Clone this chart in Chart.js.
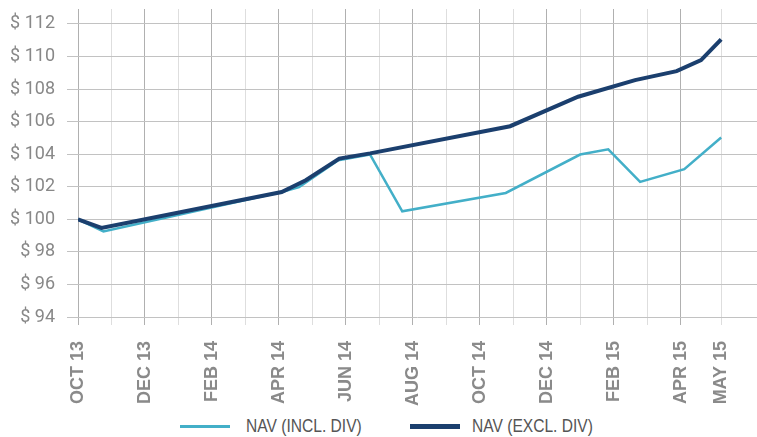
<!DOCTYPE html>
<html>
<head>
<meta charset="utf-8">
<script src="https://cdn.jsdelivr.net/npm/chart.js@4"></script>
<style>
  body { margin: 0; background: #fff; }
  #wrap { position: relative; width: 757px; height: 412px; }
  #legend {
    position: absolute; left: 180px; top: 415px; height: 22px;
    display: flex; align-items: center;
    font-family: "Liberation Sans", Arial, sans-serif;
    font-size: 19px; color: #555;
  }
  .sw { width: 50px; }
  .tx { width: 118px; white-space: nowrap; }
  .tx span { display: inline-block; transform: scaleX(0.82); transform-origin: left center; }
</style>
</head>
<body>
<div id="wrap"><canvas id="chart"></canvas></div>
<div id="legend">
  <div class="sw" style="height:3px;background:#43afc8"></div>
  <div class="tx" style="margin-left:16px"><span>NAV (INCL. DIV)</span></div>
  <div class="sw" style="height:5px;background:#1b3f6e;margin-left:46px"></div>
  <div class="tx" style="margin-left:12px"><span>NAV (EXCL. DIV)</span></div>
</div>
<script>
// months counted from Oct 2013
const tickMonths = [0, 1, 2, 3, 4, 5, 6, 7, 8, 9, 10, 11, 12, 13, 14, 15, 16, 17, 18, 19.2];
const tickLabels = ["OCT 13", "", "DEC 13", "", "FEB 14", "", "APR 14", "", "JUN 14", "",
  "AUG 14", "", "OCT 14", "", "DEC 14", "", "FEB 15", "", "APR 15", "MAY 15"];
const yTicks = [94, 96, 98, 100, 102, 104, 106, 108, 110, 112];

const inclMonths = [0, 0.76, 6.08, 6.6, 7.77, 8.72, 9.68, 12.77, 14.99, 15.83, 16.78, 18.1, 19.2];
const inclNav = [100, 99.26, 101.68, 101.98, 103.63, 103.98, 100.49, 101.62, 103.98, 104.3, 102.3, 103.08, 105.03];

const exclMonths = [0, 0.7, 6.08, 6.8, 7.8, 8.72, 12.9, 14.93, 16.63, 17.87, 18.6, 19.2];
const exclNav = [100, 99.47, 101.68, 102.4, 103.73, 104.05, 105.72, 107.53, 108.55, 109.1, 109.78, 111.06];

const toPts = (xs, ys) => xs.map((x, i) => ({ x: x, y: ys[i] }));

new Chart(document.getElementById("chart"), {
  type: "line",
  data: {
    datasets: [
      {
        label: "NAV (INCL. DIV)",
        data: toPts(inclMonths, inclNav),
        borderColor: "#43afc8",
        borderWidth: 2.5,
        order: 1
      },
      {
        label: "NAV (EXCL. DIV)",
        data: toPts(exclMonths, exclNav),
        borderColor: "#1b3f6e",
        borderWidth: 4,
        order: 0
      }
    ]
  },
  options: {
    responsive: true,
    maintainAspectRatio: false,
    animation: false,
    layout: { padding: { top: 9, right: 0, left: 0, bottom: 0 } },
    elements: { point: { radius: 0 }, line: { tension: 0 } },
    plugins: { legend: { display: false }, tooltip: { enabled: false } },
    scales: {
      x: {
        type: "linear",
        min: 0,
        max: 20.27,
        afterBuildTicks: (s) => { s.ticks = tickMonths.map(v => ({ value: v })); },
        afterFit: (s) => { s.height = 95; s.paddingLeft = 0; s.paddingRight = 0; },
        border: { display: false },
        grid: {
          color: (c) => (c.tick && Number.isInteger(c.tick.value) && c.tick.value % 2 === 0) ? "#b0b0b0" : "#dedede",
          tickLength: 8
        },
        ticks: {
          autoSkip: false,
          maxRotation: 90,
          minRotation: 90,
          padding: 16,
          color: "#8a8a8a",
          font: { family: '"Liberation Sans", Arial, sans-serif', size: 18, weight: "bold" },
          callback: (v) => {
            const i = tickMonths.indexOf(v);
            return i >= 0 ? tickLabels[i] : "";
          }
        }
      },
      y: {
        min: 94,
        max: 112.92,
        afterBuildTicks: (s) => { s.ticks = yTicks.map(v => ({ value: v })); },
        afterFit: (s) => { s.width = 78; s.paddingTop = 0; s.paddingBottom = 0; },
        border: { display: false },
        grid: { color: "#c2c2c2", tickLength: 11 },
        ticks: {
          padding: 12,
          color: "#888",
          font: { family: 'Roboto, sans-serif', size: 18 },
          callback: (v) => "$ " + v
        }
      }
    }
  }
});
</script>
</body>
</html>
